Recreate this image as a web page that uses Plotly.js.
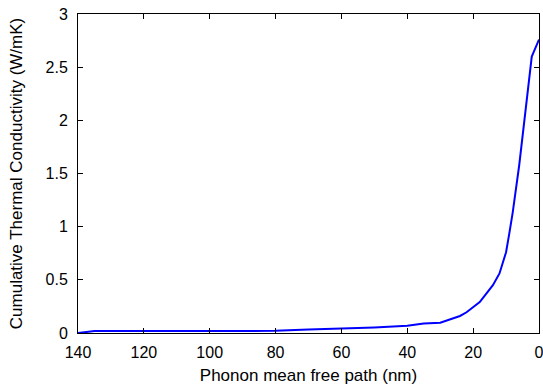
<!DOCTYPE html>
<html>
<head>
<meta charset="utf-8">
<script src="https://cdn.plot.ly/plotly-3.0.1.min.js"></script>
<style>html,body{margin:0;padding:0;background:#fff;overflow:hidden;}#wrap{width:543px;height:390px;overflow:hidden;}#chart{width:570px;height:390px;}</style>
</head>
<body>
<div id="wrap"><div id="chart"></div></div>
<script>
const mfp = [140, 135, 130, 120, 100, 80, 70, 60, 50, 40, 35, 30, 27, 24, 22, 20, 18, 16, 14, 12, 10, 9, 8, 6, 4, 2.2, 0];
const kappa = [0, 0.018, 0.019, 0.019, 0.019, 0.02, 0.032, 0.04, 0.052, 0.068, 0.09, 0.097, 0.125, 0.16, 0.195, 0.24, 0.29, 0.37, 0.45, 0.56, 0.76, 0.94, 1.13, 1.58, 2.1, 2.6, 2.76];
const xTicks = [140, 120, 100, 80, 60, 40, 20, 0];
const yTicks = [0, 0.5, 1, 1.5, 2, 2.5, 3];
const xLabel = 'Phonon mean free path (nm)';
const yLabel = 'Cumulative Thermal Conductivity (W/mK)';

const font = 'Liberation Sans, Arial, Helvetica, sans-serif';
const trace = {
  x: mfp, y: kappa, type: 'scatter', mode: 'lines',
  line: {color: '#0000ff', width: 2}, hoverinfo: 'skip', cliponaxis: true
};
const axisCommon = {
  showline: true, linecolor: '#000', linewidth: 1, mirror: 'ticks',
  ticks: 'inside', ticklen: 5, tickcolor: '#000', tickwidth: 1,
  showgrid: false, zeroline: false, automargin: false,
  tickfont: {family: font, size: 16, color: '#000'}
};
const layout = {
  width: 570, height: 390,
  margin: {l: 78, r: 31, t: 14, b: 57},
  paper_bgcolor: '#fff', plot_bgcolor: '#fff',
  showlegend: false,
  xaxis: Object.assign({}, axisCommon, {
    range: [140, 0], tickvals: xTicks, ticktext: xTicks.map(String),
    ticklabelstandoff: 5,
    title: {text: xLabel, font: {family: font, size: 17, color: '#000'}, standoff: 8}
  }),
  yaxis: Object.assign({}, axisCommon, {
    range: [0, 3], tickvals: yTicks, ticktext: yTicks.map(String),
    ticklabelstandoff: 6,
    title: {text: yLabel, font: {family: font, size: 17, color: '#000'}, standoff: 18}
  })
};
Plotly.newPlot('chart', [trace], layout, {displayModeBar: false, staticPlot: true});
</script>
</body>
</html>
